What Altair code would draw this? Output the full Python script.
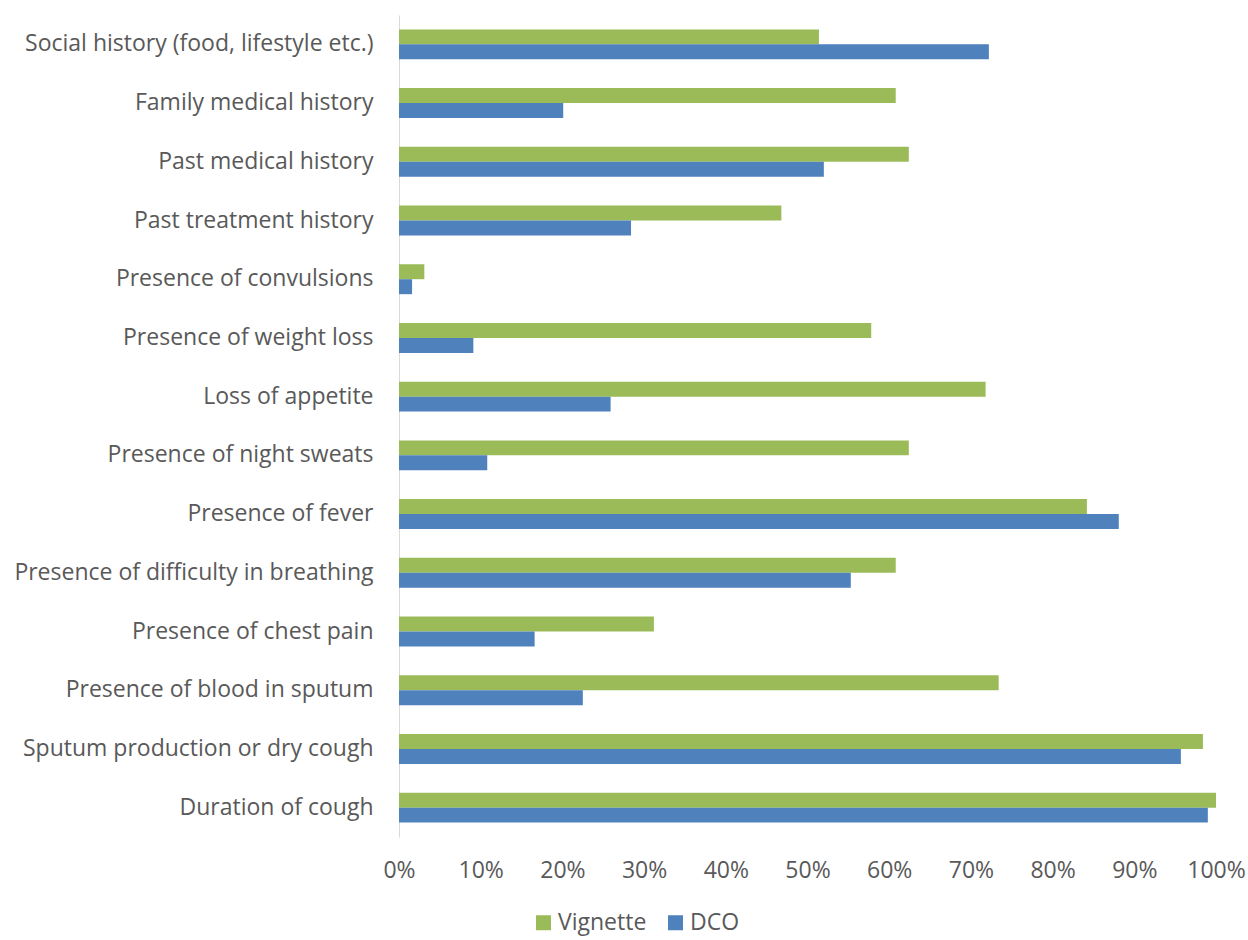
import altair as alt
import pandas as pd

categories = [
    "Social history (food, lifestyle etc.)",
    "Family medical history",
    "Past medical history",
    "Past treatment history",
    "Presence of convulsions",
    "Presence of weight loss",
    "Loss of appetite",
    "Presence of night sweats",
    "Presence of fever",
    "Presence of difficulty in breathing",
    "Presence of chest pain",
    "Presence of blood in sputum",
    "Sputum production or dry cough",
    "Duration of cough",
]
vignette = [51.4, 60.8, 62.4, 46.8, 3.1, 57.8, 71.8, 62.4, 84.2, 60.8, 31.2, 73.4, 98.4, 100.0]
dco = [72.2, 20.1, 52.0, 28.4, 1.6, 9.1, 25.9, 10.8, 88.1, 55.3, 16.6, 22.5, 95.7, 99.0]
series = ["Vignette", "DCO"]
colors = ["#9BBB59", "#4F81BD"]
ticks = [i / 10 for i in range(11)]

rows = []
for c, v, d in zip(categories, vignette, dco):
    rows.append({"category": c, "series": "Vignette", "value": v / 100})
    rows.append({"category": c, "series": "DCO", "value": d / 100})
df = pd.DataFrame(rows)

FONT = "Open Sans"
TXT = "#595959"

chart = alt.Chart(df).mark_bar().encode(
    y=alt.Y("category:N", sort=categories,
            scale=alt.Scale(paddingInner=0.49, paddingOuter=0.245),
            axis=alt.Axis(title=None, ticks=False, domainColor="#D9D9D9", domainWidth=1,
                          labelFont=FONT, labelFontSize=23, labelColor=TXT,
                          labelPadding=26, labelLimit=500)),
    yOffset=alt.YOffset("series:N", sort=series, scale=alt.Scale(paddingInner=0, paddingOuter=0)),
    x=alt.X("value:Q", scale=alt.Scale(domain=[0, 1], nice=False),
            axis=alt.Axis(title=None, values=ticks, format=".0%", grid=False, ticks=False,
                          domain=False, labelFont=FONT, labelFontSize=23, labelColor=TXT,
                          labelPadding=22, labelFlush=False)),
    color=alt.Color("series:N", scale=alt.Scale(domain=series, range=colors),
                    legend=alt.Legend(title=None, orient="none", direction="horizontal",
                                      legendX=133, legendY=896, symbolType="square",
                                      symbolSize=225, symbolStrokeWidth=0,
                                      labelFont=FONT, labelFontSize=23, labelColor=TXT,
                                      columnPadding=17, labelOffset=3)),
).properties(
    width=817, height=822,
    autosize=alt.AutoSizeParams(type="none"),
    padding={"left": 399, "top": 15, "right": 32, "bottom": 103},
    background="white",
).configure_view(strokeWidth=0, stroke="transparent")

chart.save("out.html", embed_options={"renderer": "svg", "actions": False})
